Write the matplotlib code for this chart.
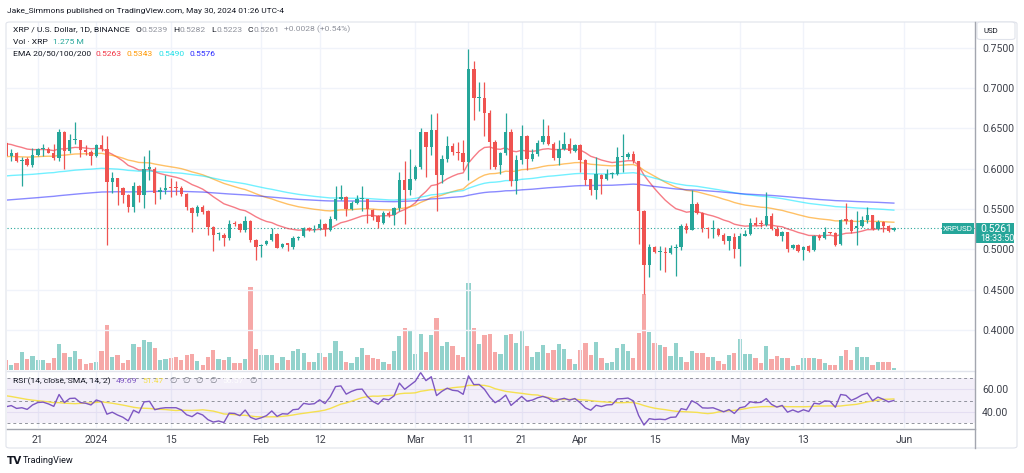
import numpy as np
import pandas as pd
import matplotlib
matplotlib.use("Agg")
import matplotlib.pyplot as plt
from matplotlib.patches import FancyBboxPatch, Rectangle

plt.rcParams['font.family'] = ['Roboto', 'DejaVu Sans']

# ---------------- data ----------------
dates = pd.date_range('2023-12-15', '2024-05-30', freq='D')

open_dec = [.632,.616,.620,.609,.612,.605,.617,.624,.625,.620,.613,.646,.622,.635,.636,.623,.621]
high_dec = [.634,.625,.621,.614,.614,.626,.626,.631,.627,.631,.649,.647,.643,.658,.636,.629,.623]
low_dec = [.614,.610,.608,.579,.603,.602,.616,.616,.619,.611,.610,.600,.620,.631,.614,.617,.605]
close_dec = [.616,.620,.609,.611,.605,.617,.624,.625,.620,.613,.646,.622,.635,.636,.623,.621,.616]

open_jan = [.616,.629,.625,.583,.588,.576,.568,.552,.578,.567,.600,.600,.571,.574,.577,.577,.576,.569,.551,.545,.553,.547,.528,.519,.518,.514,.533,.531,.524,.535,.512]
high_jan = [.631,.642,.640,.596,.589,.577,.569,.583,.580,.616,.623,.602,.577,.592,.589,.585,.578,.570,.553,.555,.555,.549,.529,.521,.520,.536,.535,.533,.541,.536,.513]
low_jan = [.614,.622,.505,.570,.555,.558,.546,.546,.559,.551,.586,.556,.563,.569,.565,.568,.566,.549,.522,.541,.544,.518,.498,.512,.504,.512,.529,.522,.522,.509,.487]
close_jan = [.629,.624,.583,.588,.577,.568,.552,.578,.567,.600,.602,.570,.574,.576,.576,.576,.569,.552,.545,.553,.546,.528,.518,.520,.514,.532,.531,.524,.535,.511,.503]

open_feb = [.504,.507,.511,.519,.503,.507,.503,.514,.516,.526,.524,.526,.532,.524,.538,.563,.565,.550,.557,.562,.562,.549,.541,.533,.545,.543,.551,.586,.574]
high_feb = [.507,.512,.526,.520,.508,.508,.516,.516,.528,.528,.530,.538,.533,.541,.578,.580,.566,.560,.568,.578,.563,.550,.542,.547,.548,.553,.596,.609,.625]
low_feb = [.490,.506,.510,.502,.502,.498,.500,.512,.515,.523,.522,.524,.516,.523,.537,.561,.541,.549,.556,.547,.533,.537,.526,.532,.540,.530,.548,.532,.567]
close_feb = [.506,.510,.519,.502,.507,.506,.514,.515,.526,.524,.525,.532,.525,.538,.563,.565,.550,.557,.562,.563,.550,.540,.534,.545,.543,.551,.586,.574,.587]

open_mar = [.587,.602,.645,.627,.648,.592,.612,.628,.621,.620,.608,.723,.688,.688,.669,.633,.604,.619,.645,.585,.611,.640,.612,.618,.633,.640,.631,.613,.624,.630,.622]
high_mar = [.605,.651,.646,.668,.669,.617,.640,.632,.633,.636,.749,.733,.708,.708,.673,.635,.621,.669,.649,.617,.654,.642,.625,.635,.662,.654,.633,.636,.646,.638,.631]
low_mar = [.586,.600,.590,.617,.547,.582,.608,.617,.611,.598,.586,.660,.671,.640,.600,.600,.594,.617,.578,.569,.606,.598,.610,.616,.631,.629,.611,.605,.623,.620,.621]
close_mar = [.602,.645,.627,.648,.592,.612,.628,.621,.619,.608,.723,.688,.689,.669,.633,.602,.619,.645,.585,.611,.640,.612,.618,.632,.640,.631,.613,.624,.630,.622,.629]

open_apr = [.629,.611,.587,.574,.592,.587,.593,.594,.615,.615,.618,.609,.547,.480,.503,.497,.497,.495,.502,.503,.529,.524,.556,.545,.526,.525,.525,.518,.510,.515]
high_apr = [.631,.612,.587,.615,.593,.600,.596,.627,.643,.621,.622,.610,.549,.507,.504,.504,.503,.505,.507,.532,.533,.573,.559,.546,.528,.536,.527,.520,.517,.520]
low_apr = [.596,.580,.567,.562,.569,.586,.589,.592,.596,.612,.607,.507,.445,.466,.495,.474,.472,.494,.467,.499,.520,.524,.544,.521,.514,.514,.516,.507,.499,.489]
close_apr = [.611,.586,.574,.593,.587,.593,.594,.615,.616,.618,.609,.547,.480,.503,.497,.498,.495,.502,.503,.529,.524,.556,.545,.526,.525,.526,.518,.510,.516,.501]

open_may = [.501,.516,.519,.533,.532,.530,.541,.525,.517,.521,.502,.505,.499,.504,.499,.517,.514,.521,.520,.507,.538,.537,.527,.529,.537,.542,.525,.534,.529,.5239]
high_may = [.520,.524,.539,.540,.537,.571,.545,.529,.523,.522,.507,.507,.504,.506,.518,.519,.528,.522,.522,.538,.557,.538,.547,.541,.553,.543,.537,.535,.530,.5282]
low_may = [.479,.516,.518,.529,.528,.529,.524,.516,.510,.497,.501,.497,.487,.497,.498,.512,.513,.519,.504,.505,.532,.520,.506,.528,.533,.524,.524,.522,.521,.5223]
close_may = [.516,.519,.533,.530,.531,.541,.525,.517,.521,.500,.505,.498,.503,.498,.516,.514,.521,.520,.506,.537,.535,.523,.529,.537,.542,.525,.534,.529,.523,.5261]

# volume, millions of XRP
vol_dec = [6.4,3.2,4.5,11.5,7.0,9.0,6.4,6.4,4.5,7.7,16.6,10.9,8.3,12.2,7.0,3.8,4.5]
vol_jan = [5.1,12.2,28.8,8.3,9.6,4.5,6.4,16.6,14.7,19.2,17.9,14.1,6.4,7.0,7.7,8.3,6.4,9.6,10.2,5.8,3.2,8.3,12.8,7.0,6.4,8.3,4.5,4.5,7.0,53.1,13.4]
vol_feb = [9.6,9.6,9.6,4.5,8.3,6.4,12.2,13.4,10.9,5.1,5.1,10.9,8.3,10.9,18.6,12.2,5.1,4.5,8.3,14.1,9.6,7.7,7.0,5.1,3.8,12.2,21.8,26.9,25.0]
vol_mar = [10.2,23.0,11.5,22.4,33.3,15.4,17.9,15.4,9.6,8.3,55.7,26.9,16.6,22.4,23.0,11.5,10.2,22.4,23.0,17.3,25.0,15.4,8.3,11.5,16.0,10.9,12.8,16.6,13.4,7.0,3.8]
vol_apr = [12.8,17.3,9.6,17.9,7.7,4.5,5.1,14.1,16.6,12.2,7.7,23.7,48.6,24.3,17.3,16.0,14.7,9.0,17.3,8.3,5.1,12.2,10.9,10.9,8.3,8.3,5.8,3.8,9.6,10.9]
vol_may = [19.8,10.2,10.2,7.7,4.5,15.4,7.0,9.0,7.7,7.7,2.6,3.2,7.7,7.7,7.7,7.0,4.5,3.2,3.2,9.0,12.8,6.4,14.7,8.3,8.3,3.2,5.1,5.1,5.1,1.275]

# indicator starting values read at the left edge
ema_periods = [20, 50, 100, 200]
ema_start = [0.631, 0.615, 0.591, 0.561]
rsi_start_gain, rsi_start_loss = 0.0072, 0.0078
rsi_sma_start = 55.0

price_ticks = [0.40, 0.45, 0.50, 0.55, 0.60, 0.65, 0.70, 0.75]
rsi_ticks = [40, 60]
tick_dates = ['2023-12-21', '2024-01-01', '2024-01-15', '2024-02-01', '2024-02-12', '2024-03-01',
              '2024-03-11', '2024-03-21', '2024-04-01', '2024-04-15', '2024-05-01', '2024-05-13', '2024-06-01']
tick_labels = ['21', '2024', '15', 'Feb', '12', 'Mar', '11', '21', 'Apr', '15', 'May', '13', 'Jun']

# ---------------- assemble ----------------
o = np.array(open_dec + open_jan + open_feb + open_mar + open_apr + open_may)
h = np.array(high_dec + high_jan + high_feb + high_mar + high_apr + high_may)
l = np.array(low_dec + low_jan + low_feb + low_mar + low_apr + low_may)
c = np.array(close_dec + close_jan + close_feb + close_mar + close_apr + close_may)
v = np.array(vol_dec + vol_jan + vol_feb + vol_mar + vol_apr + vol_may)
n = min(len(dates), len(o), len(h), len(l), len(c), len(v))
o, h, l, c, v = o[:n], h[:n], l[:n], c[:n], v[:n]
base = pd.Timestamp('2024-01-01')
xs = np.array((dates[:n] - base).days, dtype=float)

emas = []
for p, s in zip(ema_periods, ema_start):
    a = 2.0 / (p + 1)
    e = np.empty(n)
    e[0] = s
    for i in range(1, n):
        e[i] = e[i - 1] + a * (c[i] - e[i - 1])
    emas.append(e)

prev = np.concatenate([[o[0]], c[:-1]])
d = c - prev
ag, al = rsi_start_gain, rsi_start_loss
rsi = np.empty(n)
for i in range(n):
    ag = (ag * 13 + max(d[i], 0)) / 14
    al = (al * 13 + max(-d[i], 0)) / 14
    rsi[i] = 100 - 100 / (1 + ag / al)
padded = np.concatenate([np.full(13, rsi_sma_start), rsi])
rsi_sma = np.array([padded[i:i + 14].mean() for i in range(n)])

# ---------------- figure ----------------
W, H = 1024, 473
fig = plt.figure(figsize=(W / 100, H / 100), dpi=100)
fig.patch.set_facecolor('white')
renderer = fig.canvas.get_renderer()

def fx(x):
    return x / W

def fy(y):
    return 1 - y / H

PL, PR, PT, PB = 7, 975, 22, 370
RT, RB = 371, 428
XPX0, XPD = 96.3, 5.317   # pixel of Jan 1 and pixels per day
xl = ((PL - XPX0) / XPD, (PR - XPX0) / XPD)

UP, DN = '#26a69a', '#ef5350'
GRID = '#f0f3fa'
TXT = '#131722'
AXT = '#3d404a'

axv = fig.add_axes([fx(PL), fy(PB), (PR - PL) / W, (PB - PT) / H])
ax = fig.add_axes([fx(PL), fy(PB), (PR - PL) / W, (PB - PT) / H], sharex=axv)
ax.patch.set_visible(False)
axr = fig.add_axes([fx(PL), fy(RB), (PR - PL) / W, (RB - RT) / H], sharex=axv)

up = c >= o
cols = np.where(up, UP, DN)

# volume
axv.bar(xs, v, width=0.8, color=cols, alpha=0.5, linewidth=0)
axv.set_ylim(0, v.max() * (PB - PT) / 87.0)
axv.set_xlim(*xl)
axv.axis('off')

# grid
tick_x = np.array([(pd.Timestamp(t) - base).days for t in tick_dates], dtype=float)
for tx in tick_x:
    ax.axvline(tx, color=GRID, lw=1.0, zorder=0)
    axr.axvline(tx, color=GRID, lw=1.0, zorder=0)
for py in price_ticks:
    ax.axhline(py, color=GRID, lw=1.0, zorder=0)

# EMAs
ema_cols = [('#f23645', 0.65), ('#ff9800', 0.6), ('#00e5ff', 0.55), ('#2a2aff', 0.55)]
for e, (col, al_) in zip(emas, ema_cols):
    ax.plot(xs, e, color=col, alpha=al_, lw=1.0, zorder=2)

# last price line
ax.axhline(c[-1], color=UP, lw=0.8, ls=(0, (1, 2)), zorder=1)

# candles
ax.vlines(xs, l, h, colors=cols, lw=0.9, zorder=3)
body_lo = np.minimum(o, c)
body_h = np.maximum(np.abs(c - o), 0.0013)
ax.bar(xs, body_h, bottom=body_lo, width=0.64, color=cols, linewidth=0, zorder=4)

ax.set_xlim(*xl)
ax.set_ylim(0.75 - (PB - 47.7) / 806.6, 0.75 + (47.7 - PT) / 806.6)
ax.yaxis.tick_right()
ax.set_yticks(price_ticks)
ax.set_yticklabels([f'{t:.4f}' for t in price_ticks])
ax.tick_params(axis='y', length=0, pad=5, labelsize=7.5, labelcolor=AXT)
ax.tick_params(axis='x', which='both', length=0, labelbottom=False)
for s in ax.spines.values():
    s.set_visible(False)

# RSI pane
axr.axhspan(30, 70, color='#7e57c2', alpha=0.09, lw=0, zorder=0)
for lv in rsi_ticks:
    axr.axhline(lv, color='#e4def2', lw=0.8, zorder=0)
for lv in [70, 50, 30]:
    axr.axhline(lv, color='#787b86', lw=0.7, ls=(0, (3, 3)), alpha=0.8, zorder=1)
axr.plot(xs, rsi_sma, color='#f5e050', lw=1.0, zorder=2)
axr.plot(xs, rsi, color='#7e57c2', lw=1.0, zorder=3)
axr.set_xlim(*xl)
ppu = (411.7 - 389.3) / 20
axr.set_ylim(40 - (RB - 411.7) / ppu, 60 + (389.3 - RT) / ppu)
axr.yaxis.tick_right()
axr.set_yticks(rsi_ticks)
axr.set_yticklabels([f'{t:.2f}' for t in rsi_ticks])
axr.tick_params(axis='y', length=0, pad=5, labelsize=7.5, labelcolor=AXT)
axr.set_xticks(tick_x)
axr.set_xticklabels(tick_labels)
axr.tick_params(axis='x', length=0, pad=5, labelsize=7.5, labelcolor=AXT)
for s in axr.spines.values():
    s.set_visible(False)
axr.patch.set_visible(False)

# separators / frame
def hline_px(y, x0, x1, col, lw=1.0):
    fig.add_artist(plt.Line2D([fx(x0), fx(x1)], [fy(y), fy(y)], color=col, lw=lw))

def vline_px(x, y0, y1, col, lw=1.0):
    fig.add_artist(plt.Line2D([fx(x), fx(x)], [fy(y0), fy(y1)], color=col, lw=lw))

hline_px(370.5, PL, PR, '#e0e3eb')
hline_px(428.5, PL, PR, '#a3a6af')
vline_px(975, 22, 448, '#a3a6af')
frame = FancyBboxPatch((fx(6), fy(448)), fx(1017) - fx(6), fy(22) - fy(448),
                       boxstyle='round,pad=0,rounding_size=0.004', transform=fig.transFigure,
                       fill=False, edgecolor='#e0e3eb', lw=0.8)
fig.add_artist(frame)

# ---------------- texts ----------------
def txt(x, y, s, size, color=TXT, weight='normal', ha='left', family=None):
    kw = {}
    if family:
        kw['family'] = family
    return fig.text(fx(x), fy(y), s, fontsize=size, color=color, fontweight=weight,
                    ha=ha, va='center', **kw)

def fit(s, w, weight='normal'):
    t = fig.text(0, 0, s, fontsize=10, fontweight=weight)
    ww = t.get_window_extent(renderer).width
    t.remove()
    return 10 * w / ww

def seq(x, y, segs, size):
    """Write coloured segments one after another; each entry is (text, colour, gap_px)."""
    for s, col, gap in segs:
        fam = ['DejaVu Sans'] if s == '∅' else None
        t = txt(x, y, s, size, col, family=fam)
        x = x + t.get_window_extent(renderer).width + gap

hs = fit('Jake_Simmons published on TradingView.com, May 30, 2024 01:26 UTC-4', 276)
txt(7, 11.5, 'Jake_Simmons published on TradingView.com, May 30, 2024 01:26 UTC-4', hs, '#131722')

ls = fit('XRP / U.S. Dollar, 1D, BINANCE', 116)
GRY = '#8f929c'
seq(12.7, 29.5, [('XRP / U.S. Dollar, 1D, BINANCE', TXT, 6),
                 ('O', TXT, 0.6), ('0.5239', GRY, 5),
                 ('H', TXT, 0.6), ('0.5282', GRY, 5),
                 ('L', TXT, 0.6), ('0.5223', GRY, 5),
                 ('C', TXT, 0.6), ('0.5261', GRY, 5),
                 ('+0.0028 (+0.54%)', GRY, 0)], ls)
seq(12.7, 42, [('Vol · XRP', TXT, 5), ('1.275 M', UP, 0)], ls)
seq(12.7, 53.5, [('EMA 20/50/100/200', TXT, 5), ('0.5263', '#f23645', 5),
                 ('0.5343', '#ff9800', 5), ('0.5490', '#22e0e8', 5), ('0.5576', '#2a2aff', 0)], ls)
seq(12.7, 380.7, [('RSI (14, close, SMA, 14, 2)', TXT, 5), ('49.69', '#7e57c2', 5),
                  ('51.47', '#f5e050', 6), ('∅', '#787b86', 6), ('∅', '#787b86', 6),
                  ('∅', '#787b86', 6), ('∅', '#787b86', 6), ('56.57', '#ffffff', 6),
                  ('∅', '#787b86', 0)], ls)

# USD label
ub = FancyBboxPatch((fx(977), fy(39.5)), fx(1015) - fx(977), fy(22) - fy(39.5),
                    boxstyle='round,pad=0,rounding_size=0.004', transform=fig.transFigure,
                    facecolor='white', edgecolor='#e0e3eb', lw=0.8)
fig.add_artist(ub)
txt(990.5, 30.7, 'USD', ls * 0.92, ha='center')

# price label boxes
fig.add_artist(Rectangle((fx(941.7), fy(234)), fx(973.5) - fx(941.7), fy(222.7) - fy(234),
                         transform=fig.transFigure, facecolor=UP, edgecolor='none'))
txt(957.6, 228.6, 'XRPUSD', ls * 0.95, 'white', ha='center')
fig.add_artist(Rectangle((fx(975), fy(243)), fx(1014) - fx(975), fy(222.7) - fy(243),
                         transform=fig.transFigure, facecolor=UP, edgecolor='none'))
txt(980, 228.6, '0.5261', 7.5, 'white')
txt(980, 238.2, '18:33:50', 6.4, 'white')

# TradingView logo
txt(7, 460.5, 'TV', 7.5, '#131722', weight='bold', family=['DejaVu Sans'])
tvs = fit('TradingView', 51)
txt(22.5, 460.5, 'TradingView', tvs, '#131722')

fig.savefig('out.png', dpi=100, facecolor='white')
